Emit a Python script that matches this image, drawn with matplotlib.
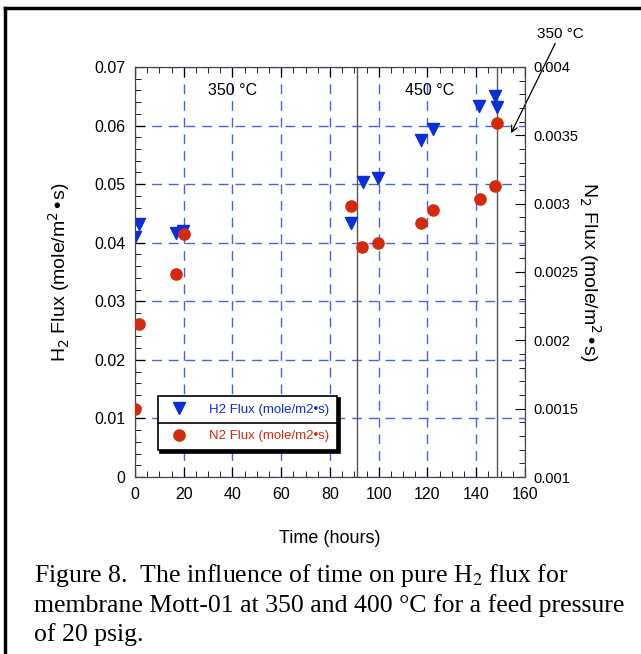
import matplotlib.pyplot as plt
from matplotlib.lines import Line2D
from matplotlib.ticker import MultipleLocator

plt.rcParams['font.family'] = ['Liberation Sans', 'DejaVu Sans']

# H2 flux (left axis)
h2_time = [0, 1.6, 16.8, 19.8, 88.5, 93.4, 99.8, 117.2, 122.4, 141.3, 147.7, 148.5]
h2_flux = [0.0410, 0.0432, 0.0417, 0.0420, 0.0434, 0.0504, 0.0511, 0.0576, 0.0594, 0.0634, 0.0650, 0.0631]

# N2 flux (right axis)
n2_time = [0, 1.8, 16.8, 20.2, 88.5, 93.3, 99.8, 117.3, 122.4, 141.5, 147.7, 148.5]
n2_flux = [0.001495, 0.002122, 0.002485, 0.002778, 0.002985, 0.002685, 0.002710,
           0.002856, 0.002951, 0.003036, 0.003131, 0.003588]

# temperature changes
switch_times = [91.1, 148.5]

blue = '#0a2fd8'
red = '#d42a0c'
gridc = '#4a63e0'

fig = plt.figure(figsize=(6.41, 6.54), dpi=100)
ax = fig.add_axes([0.2106, 0.2706, 0.6084, 0.627])
ax2 = ax.twinx()

ax.set_xlim(0, 160)
ax.set_ylim(0, 0.07)
ax2.set_ylim(0.001, 0.004)

ax.xaxis.set_major_locator(MultipleLocator(20))
ax.xaxis.set_minor_locator(MultipleLocator(5))
ax.yaxis.set_major_locator(MultipleLocator(0.01))
ax.yaxis.set_minor_locator(MultipleLocator(0.002))
ax2.yaxis.set_major_locator(MultipleLocator(0.0005))
ax2.yaxis.set_minor_locator(MultipleLocator(0.0001))

ax.grid(True, which='major', color=gridc, linestyle=(0, (7, 5)), linewidth=1.0)
ax.set_axisbelow(True)

for t in switch_times:
    ax.axvline(t, color='#555555', linewidth=1.0, zorder=1)

ax.tick_params(which='both', direction='in', top=True, right=False, labelsize=11.5)
ax.tick_params(which='major', length=7, pad=7)
ax.tick_params(which='minor', length=4)
ax2.tick_params(which='both', direction='in', labelsize=10.5)
ax2.tick_params(which='major', length=7, pad=6)
ax2.tick_params(which='minor', length=4)
ax.yaxis.set_major_formatter(plt.FuncFormatter(lambda v, p: '0' if v == 0 else f'{v:g}'))
ax2.yaxis.set_major_formatter(plt.FuncFormatter(lambda v, p: f'{v:g}'))

for sp in ax.spines.values():
    sp.set_color('#444444')
for sp in ax2.spines.values():
    sp.set_color('#444444')

ax.scatter(h2_time, h2_flux, marker='v', s=75, color=blue, zorder=3,
           label='H2 Flux (mole/m2•s)')
ax2.scatter(n2_time, n2_flux, marker='o', s=65, color=red, zorder=3,
            label='N2 Flux (mole/m2•s)')

ax.set_xlabel('Time (hours)', fontsize=13, labelpad=20)
ax.set_ylabel('H$_2$ Flux (mole/m$^2$•s)', fontsize=14, labelpad=16)
ax2.set_ylabel('N$_2$ Flux (mole/m$^2$•s)', fontsize=14, rotation=-90, labelpad=18)

ax.text(40, 0.066, '350 °C', fontsize=11.5, ha='center', va='center')
ax.text(121, 0.066, '450 °C', fontsize=11.5, ha='center', va='center')
ax.annotate('350 °C', xy=(154.3, 0.0587), xytext=(174.4, 0.0745),
            textcoords='data', fontsize=11, ha='center', va='bottom',
            arrowprops=dict(arrowstyle='->', color='black', lw=0.9,
                            shrinkA=0, shrinkB=0),
            annotation_clip=False)

handles = [Line2D([], [], marker='v', color=blue, linestyle='none', markersize=9),
           Line2D([], [], marker='o', color=red, linestyle='none', markersize=8)]
leg = ax.legend(handles, ['H2 Flux (mole/m2•s)', 'N2 Flux (mole/m2•s)'],
                loc='lower left', bbox_to_anchor=(0.058, 0.065), fontsize=9.5,
                frameon=True, fancybox=False, shadow={'color': 'black', 'alpha': 1},
                edgecolor='black', borderpad=0.6, labelspacing=1.1,
                handletextpad=1.3, borderaxespad=0)
leg.get_frame().set_linewidth(1.2)
leg.set_zorder(5)
for txt, c in zip(leg.get_texts(), [blue, red]):
    txt.set_color(c)

# separator line between legend entries
fig.canvas.draw()
bb = leg.get_window_extent().transformed(fig.transFigure.inverted())
ymid = (bb.y0 + bb.y1) / 2
fig.add_artist(Line2D([bb.x0, bb.x1], [ymid, ymid], color='black', lw=1.2, zorder=6))

# figure frame (top and left)
fig.add_artist(Line2D([0.008, 1.0], [0.988, 0.988], color='black', lw=2.5))
fig.add_artist(Line2D([0.008, 0.008], [0.0, 0.988], color='black', lw=2.5))

fig.text(0.053, 0.0765, 'Figure 8.  The influence of time on pure H$_2$ flux for\n'
         'membrane Mott-01 at 350 and 400 °C for a feed pressure\n'
         'of 20 psig.', fontsize=18.5, family='Liberation Serif',
         ha='left', va='center', linespacing=1.3,
         math_fontfamily='stix')

fig.savefig('out.png', dpi=100)
